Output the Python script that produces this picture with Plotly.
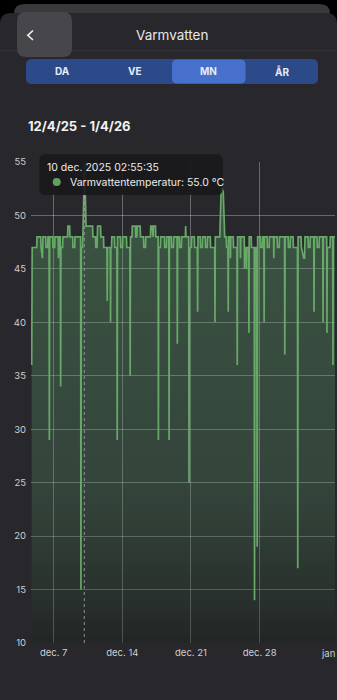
import numpy as np
import pandas as pd
import plotly.graph_objects as go

# ---------------- data ----------------
# day of month in December (values > 31 continue into January), decimal days
days_w1 = [4.76, 4.81, 5.27, 5.30, 5.68, 5.71, 5.85, 5.91, 6.19, 6.22, 6.39, 6.42,
           6.53, 6.56, 6.59, 6.90, 6.93, 7.10, 7.13, 7.46, 7.49, 7.54, 7.68, 7.71,
           7.74, 7.91, 7.94, 8.42, 8.45, 8.63, 8.66, 8.94, 8.96, 9.14, 9.17, 9.75,
           9.78, 9.82, 9.95, 9.97, 10.12, 10.15, 10.30, 10.97, 11.00]
temps_w1 = [36, 47, 47, 48, 48, 47, 46, 48, 48, 47, 47, 48,
            48, 29, 48, 48, 47, 47, 48, 48, 46, 48, 48, 34,
            47, 47, 48, 48, 49, 49, 48, 48, 47, 47, 48, 48,
            15, 47, 47, 48, 55, 55, 49, 49, 48]

days_w2 = [11.27, 11.30, 11.42, 11.45, 11.48, 11.78, 11.81, 12.08, 12.11, 12.43, 12.46, 12.49,
           12.77, 12.80, 12.83, 12.90, 12.93, 13.20, 13.23, 13.45, 13.48, 13.51, 13.81, 13.84,
           14.02, 14.05, 14.42, 14.45, 14.77, 14.80, 14.83, 14.99, 15.01, 15.34, 15.37, 15.48,
           15.51, 15.82, 15.85, 16.16, 16.19, 16.36, 16.39, 16.87, 16.90, 17.04, 17.07, 17.14,
           17.17, 17.38, 17.41, 17.65, 17.68, 17.71]
temps_w2 = [48, 47, 47, 48, 49, 49, 48, 48, 47, 47, 42, 47,
            47, 40, 47, 47, 48, 48, 47, 47, 29, 48, 48, 47,
            47, 48, 48, 47, 47, 35, 48, 48, 49, 49, 48, 48,
            49, 49, 48, 48, 47, 47, 48, 48, 49, 49, 48, 48,
            49, 49, 48, 48, 29, 47]

days_w3 = [17.88, 17.91, 18.29, 18.32, 18.49, 18.52, 18.74, 18.77, 18.80, 19.00, 19.03, 19.21,
           19.24, 19.58, 19.61, 19.64, 19.82, 19.85, 20.02, 20.05, 20.43, 20.46, 20.49, 20.77,
           20.80, 20.83, 21.04, 21.07, 21.34, 21.37, 21.65, 21.68, 21.71, 21.95, 21.98, 22.16,
           22.19, 22.46, 22.49, 22.66, 22.69, 22.97, 23.00, 23.42, 23.45, 23.48, 23.94, 24.09,
           24.29, 24.44]
temps_w3 = [47, 48, 48, 47, 47, 48, 48, 29, 48, 48, 47, 47,
            48, 48, 38, 48, 48, 47, 47, 48, 48, 49, 48, 48,
            25, 47, 47, 48, 48, 47, 47, 41, 48, 48, 47, 47,
            48, 48, 47, 47, 48, 48, 47, 47, 40, 48, 48, 52.7,
            52.2, 48]

days_w4 = [24.60, 24.63, 24.77, 24.80, 24.83, 25.00, 25.03, 25.06, 25.31, 25.34, 25.69, 25.72,
           25.75, 26.02, 26.05, 26.08, 26.43, 26.46, 26.49, 26.63, 26.66, 26.69, 26.88, 26.91,
           26.94, 27.14, 27.17, 27.45, 27.48, 27.53, 27.70, 27.75, 27.80, 28.06, 28.09, 28.26,
           28.29, 28.43, 28.46, 28.49, 28.76, 28.79, 28.97, 29.00, 29.42, 29.45, 29.48, 29.79,
           29.82, 30.00, 30.03]
temps_w4 = [48, 47, 47, 41, 48, 48, 46, 48, 48, 47, 47, 36,
            48, 48, 46, 48, 48, 45, 47, 47, 45, 47, 47, 39,
            48, 48, 47, 47, 14, 47, 47, 19, 48, 48, 47, 47,
            48, 48, 40, 48, 48, 47, 47, 48, 48, 46, 48, 48,
            47, 47, 48]

days_w5 = [30.54, 30.57, 30.60, 30.91, 30.94, 31.11, 31.14, 31.41, 31.44, 31.86, 31.89, 31.92,
           32.23, 32.26, 32.50, 32.58, 32.63, 32.94, 32.97, 33.14, 33.17, 33.52, 33.55, 33.58,
           33.85, 33.88, 34.06, 34.09, 34.44, 34.47, 34.50, 34.84, 34.87, 34.90, 35.18, 35.21,
           35.45, 35.48, 35.51, 35.69]
temps_w5 = [48, 37, 48, 48, 47, 47, 48, 48, 47, 47, 17, 48,
            48, 47, 46, 46, 48, 48, 47, 47, 48, 48, 41, 48,
            48, 47, 47, 48, 48, 40, 48, 48, 39, 47, 47, 48,
            48, 36, 48, 48]

y_ticks = [10, 15, 20, 25, 30, 35, 40, 45, 50, 55]
x_tick_dates = ["2025-12-07", "2025-12-14", "2025-12-21", "2025-12-28", "2026-01-04 16:30"]
x_tick_text = ["dec. 7", "dec. 14", "dec. 21", "dec. 28", "jan"]
x_range = ["2025-12-04 16:30", "2026-01-04 16:31"]

tooltip_time = "2025-12-10 02:55:35"
tooltip_title = "10 dec. 2025 02:55:35"
tooltip_label = "Varmvattentemperatur: 55.0 °C"
page_title = "Varmvatten"
range_title = "12/4/25 - 1/4/26"
periods = ["DA", "VE", "MN", "ÅR"]

# ---------------- build ----------------
days = np.array(days_w1 + days_w2 + days_w3 + days_w4 + days_w5)
temps = temps_w1 + temps_w2 + temps_w3 + temps_w4 + temps_w5
times = pd.Timestamp("2025-12-01") + pd.to_timedelta(days - 1, unit="D")

W, H = 337, 700
ML, MR, MT, MB = 31, 2, 162, 57
PW, PH = W - ML - MR, H - MT - MB
FONT = "Inter"


def px(x):
    return (x - ML) / PW


def py(y):
    return (H - MB - y) / PH


def rrect(x0, y0, x1, y1, r):
    return (f"M {px(x0 + r)},{py(y0)} L {px(x1 - r)},{py(y0)} "
            f"Q {px(x1)},{py(y0)} {px(x1)},{py(y0 + r)} L {px(x1)},{py(y1 - r)} "
            f"Q {px(x1)},{py(y1)} {px(x1 - r)},{py(y1)} L {px(x0 + r)},{py(y1)} "
            f"Q {px(x0)},{py(y1)} {px(x0)},{py(y1 - r)} L {px(x0)},{py(y0 + r)} "
            f"Q {px(x0)},{py(y0)} {px(x0 + r)},{py(y0)} Z")


fig = go.Figure()
fig.add_trace(go.Scatter(
    x=times, y=temps, mode="lines",
    line=dict(color="rgb(104,168,104)", width=1.7),
    fill="tozeroy",
    fillgradient=dict(
        type="vertical", start=10, stop=48,
        colorscale=[[0, "rgba(25,35,25,0.35)"],
                    [0.4, "rgba(85,150,100,0.27)"],
                    [1, "rgba(95,170,110,0.33)"]]),
    hoverinfo="skip", showlegend=False,
))

shapes = []
# top black area + sheet behind + main sheet
shapes.append(dict(type="path", path=rrect(14, 4, 330, 40, 10), xref="paper", yref="paper",
                   fillcolor="#39383c", line=dict(width=0), layer="below"))
shapes.append(dict(type="path", path=rrect(0, 13, 337, 720, 11), xref="paper", yref="paper",
                   fillcolor="#28272c", line=dict(width=0), layer="below"))
shapes.append(dict(type="line", x0=px(0), x1=px(337), y0=py(50.5), y1=py(50.5), xref="paper",
                   yref="paper", line=dict(color="#323136", width=1), layer="below"))
# back button
shapes.append(dict(type="path", path=rrect(17, 12, 72, 57, 9), xref="paper", yref="paper",
                   fillcolor="#47464a", line=dict(width=0), layer="below"))
shapes.append(dict(type="path",
                   path=f"M {px(33)},{py(30.5)} L {px(27.8)},{py(35.3)} L {px(33)},{py(40)}",
                   xref="paper", yref="paper", line=dict(color="#f0f0f0", width=1.6),
                   layer="below"))
# segmented control
shapes.append(dict(type="path", path=rrect(26, 59, 318, 84, 6), xref="paper", yref="paper",
                   fillcolor="#2c4a8a", line=dict(width=0), layer="below"))
shapes.append(dict(type="path", path=rrect(172, 59.5, 245.5, 83.5, 5), xref="paper",
                   yref="paper", fillcolor="#4670cc", line=dict(width=0), layer="below"))
# crosshair
shapes.append(dict(type="line", x0=tooltip_time, x1=tooltip_time, y0=0, y1=1, xref="x",
                   yref="paper", line=dict(color="rgba(170,170,170,0.8)", width=1, dash="3px,3px"),
                   layer="above"))
# tooltip
shapes.append(dict(type="path", path=rrect(39.3, 154.3, 222.7, 195, 6), xref="paper",
                   yref="paper", fillcolor="rgba(26,26,28,0.93)", line=dict(width=0),
                   layer="above"))
shapes.append(dict(type="circle", x0=px(52.7), x1=px(60.7), y0=py(186), y1=py(178),
                   xref="paper", yref="paper", fillcolor="#62a062", line=dict(width=0),
                   layer="above"))

ann = []


def text(x, y, s, size, color="#ececec", anchor="center", bold=False):
    ann.append(dict(x=px(x), y=py(y), xref="paper", yref="paper", text=f"<b>{s}</b>" if bold else s,
                    showarrow=False, xanchor=anchor, yanchor="middle",
                    font=dict(family=FONT, size=size, color=color)))


text(172, 35, page_title, 13.5, "#e8e8e8")
for lbl, cx in zip(periods, [62, 135, 208.5, 282]):
    text(cx, 71.5, lbl, 10, "#e6ebf5", bold=True)
text(25.5, 125.5, range_title, 13, "#f2f2f2", anchor="left", bold=True)
text(45, 167.7, tooltip_title, 10.5, "#ececec", anchor="left")
text(67.5, 182.3, tooltip_label, 10.5, "#ececec", anchor="left")

# last x tick label sits at the right edge: draw it right-aligned so it stays inside
text(336.5, 653.3, x_tick_text[-1], 9.5, "#cfcfcf", anchor="right")
tick_labels = x_tick_text[:-1] + [""]

grid = "rgba(255,255,255,0.30)"
fig.update_layout(
    width=W, height=H, autosize=False,
    margin=dict(l=ML, r=MR, t=MT, b=MB, pad=0, autoexpand=False),
    paper_bgcolor="#000000", plot_bgcolor="rgba(0,0,0,0)",
    shapes=shapes, annotations=ann, showlegend=False, hovermode=False,
    font=dict(family=FONT),
    xaxis=dict(type="date", range=x_range, tickvals=x_tick_dates, ticktext=tick_labels,
               showgrid=True, gridcolor=grid, gridwidth=1, zeroline=False, showline=False,
               ticks="", ticklabelstandoff=2,
               tickfont=dict(size=9.5, color="#cfcfcf", family=FONT),
               ticklabeloverflow="allow", automargin=False, fixedrange=True),
    yaxis=dict(range=[10, 55], tickvals=y_ticks, showgrid=True, gridcolor=grid, gridwidth=1,
               zeroline=False, showline=False, ticks="", ticklabelstandoff=4,
               automargin=False,
               tickfont=dict(size=9.5, color="#cfcfcf", family=FONT), fixedrange=True),
)

fig.write_html("out.html", config=dict(displayModeBar=False))
